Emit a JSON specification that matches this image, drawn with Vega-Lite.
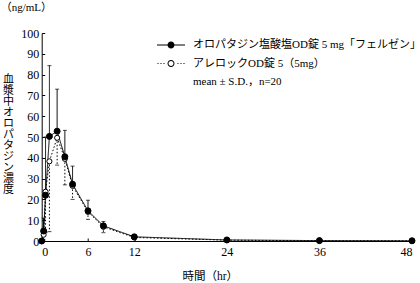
{
  "$schema": "https://vega.github.io/schema/vega-lite/v6.json",
  "autosize": {"type": "none"},
  "width": 370.3,
  "height": 208,
  "padding": {"left": 41.7, "top": 33, "right": 8, "bottom": 42},
  "background": "white",
  "title": {"text": "（ng/mL）", "anchor": "start", "frame": "group", "dx": -41, "offset": 14, "font": "Liberation Serif, Noto Sans CJK JP", "fontSize": 11, "fontWeight": "normal", "color": "black"},
  "config": {
    "view": {"stroke": null},
    "axis": {"grid": false, "domainColor": "black", "tickColor": "black", "labelColor": "black", "titleColor": "black", "labelFont": "Liberation Serif", "labelFontSize": 12, "titleFont": "Liberation Serif, Noto Sans CJK JP", "titleFontWeight": "normal", "titleFontSize": 12, "tickSize": -3, "domainWidth": 1, "tickWidth": 1}
  },
  "data": {"values": [
    {"t": 0, "series": "B", "mean": 0, "end": 0},
    {"t": 0.25, "series": "B", "mean": 3, "end": 0.5},
    {"t": 0.5, "series": "B", "mean": 23.7, "end": 4},
    {"t": 1, "series": "B", "mean": 38.3, "end": 4.5},
    {"t": 2, "series": "B", "mean": 49.6, "end": 36.5},
    {"t": 3, "series": "B", "mean": 39.5, "end": 27},
    {"t": 4, "series": "B", "mean": 26.5, "end": 20},
    {"t": 6, "series": "B", "mean": 14, "end": 10.4},
    {"t": 8, "series": "B", "mean": 6.8, "end": 4},
    {"t": 12, "series": "B", "mean": 1.7, "end": 1},
    {"t": 24, "series": "B", "mean": 0.4, "end": 0.2},
    {"t": 36, "series": "B", "mean": 0.1, "end": 0},
    {"t": 48, "series": "B", "mean": 0.1, "end": 0},
    {"t": 0, "series": "A", "mean": 0, "end": 0},
    {"t": 0.25, "series": "A", "mean": 4.8, "end": 11},
    {"t": 0.5, "series": "A", "mean": 22, "end": 50},
    {"t": 1, "series": "A", "mean": 50.3, "end": 84.3},
    {"t": 2, "series": "A", "mean": 52.8, "end": 73},
    {"t": 3, "series": "A", "mean": 40.5, "end": 53.2},
    {"t": 4, "series": "A", "mean": 27.3, "end": 36},
    {"t": 6, "series": "A", "mean": 14.5, "end": 19.6},
    {"t": 8, "series": "A", "mean": 7.3, "end": 9.4},
    {"t": 12, "series": "A", "mean": 2.0, "end": 2.8},
    {"t": 24, "series": "A", "mean": 0.5, "end": 0.8},
    {"t": 36, "series": "A", "mean": 0.2, "end": 0.3},
    {"t": 48, "series": "A", "mean": 0.1, "end": 0.15}
  ]},
  "encoding": {
    "x": {"field": "t", "type": "quantitative", "scale": {"domain": [0, 48], "nice": false},
      "axis": {"values": [0, 6, 12, 24, 36, 48], "title": "時間（hr）", "labelPadding": 8, "titlePadding": 13, "titleX": 168, "titleAlign": "center", "titleFontSize": 11.5}},
    "y": {"field": "mean", "type": "quantitative", "scale": {"domain": [0, 100], "nice": false},
      "axis": {"values": [0, 10, 20, 30, 40, 50, 60, 70, 80, 90, 100], "labelPadding": 6,
        "title": ["血", "漿", "中", "オ", "ロ", "パ", "タ", "ジ", "ン", "濃", "度"],
        "titleAngle": 0, "titleAlign": "center", "titleBaseline": "top", "titleX": -33.7, "titleY": 40, "titleLineHeight": 11, "titleFont": "Noto Sans CJK JP", "titleFontSize": 11}}
  },
  "layer": [
    {"mark": {"type": "rule", "color": "black", "strokeWidth": 1},
      "encoding": {"y2": {"field": "end"},
        "strokeDash": {"field": "series", "type": "nominal", "scale": {"domain": ["A", "B"], "range": [[1, 0], [1.5, 2]]}, "legend": null}}},
    {"mark": {"type": "tick", "orient": "horizontal", "color": "black", "size": 4, "thickness": 1},
      "encoding": {"y": {"field": "end", "type": "quantitative"}}},
    {"mark": {"type": "line", "color": "black", "strokeWidth": 1},
      "encoding": {"strokeDash": {"field": "series", "type": "nominal", "scale": {"domain": ["A", "B"], "range": [[1, 0], [1.5, 2]]}, "legend": null}}},
    {"mark": {"type": "point", "shape": "circle", "stroke": "black", "strokeWidth": 1, "opacity": 1, "filled": false},
      "encoding": {
        "fill": {"field": "series", "type": "nominal", "scale": {"domain": ["A", "B"], "range": ["black", "white"]}, "legend": null},
        "size": {"field": "series", "type": "nominal", "scale": {"domain": ["A", "B"], "range": [36, 26]}, "legend": null}
      }},
    {"mark": {"type": "point", "filled": true, "color": "black", "opacity": 0},
      "encoding": {
        "shape": {"field": "series", "type": "nominal",
          "scale": {"domain": ["A", "B", "C"], "range": [
            "M-2,-0.0714H2V0.0714H-2ZM-0.5,0A0.5,0.5 0 1,1 0.5,0A0.5,0.5 0 1,1 -0.5,0Z",
            "M-0.5,0A0.5,0.5 0 1,1 0.5,0A0.5,0.5 0 1,1 -0.5,0ZM-0.357,0A0.357,0.357 0 1,0 0.357,0A0.357,0.357 0 1,0 -0.357,0ZM-1.929,-0.071h0.143v0.143h-0.143ZM-1.5,-0.071h0.143v0.143h-0.143ZM-1.071,-0.071h0.143v0.143h-0.143ZM0.929,-0.071h0.143v0.143h-0.143ZM1.357,-0.071h0.143v0.143h-0.143ZM1.786,-0.071h0.143v0.143h-0.143Z",
            "M0,0Z"]},
          "legend": {"orient": "none", "legendX": 122.3, "legendY": 5, "title": null, "padding": 0,
            "symbolSize": 196, "symbolOpacity": 1, "symbolStrokeWidth": 0, "symbolFillColor": "black",
            "rowPadding": 6.5, "labelOffset": 15, "labelLimit": 320,
            "labelFont": "Liberation Serif, Noto Sans CJK JP", "labelFontSize": 11, "labelColor": "black",
            "labelExpr": "datum.value === 'A' ? 'オロパタジン塩酸塩OD錠 5 mg「フェルゼン」' : datum.value === 'B' ? 'アレロックOD錠 5（5mg）' : 'mean ± S.D.，n=20'"}}
      }}
  ]
}
